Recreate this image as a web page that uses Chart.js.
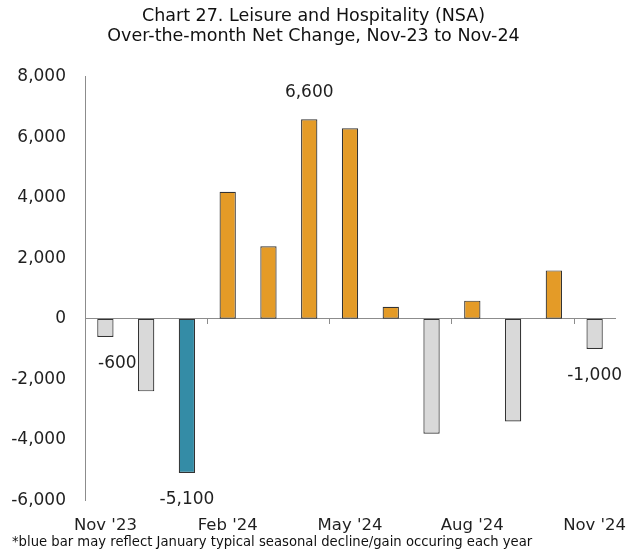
<!DOCTYPE html>
<html>
<head>
<meta charset="utf-8">
<title>Leisure and Hospitality (NSA) net change</title>
<script src="https://cdn.jsdelivr.net/npm/chart.js@4.4.1/dist/chart.umd.min.js"></script>
<style>
  html, body { margin: 0; padding: 0; background: #ffffff; }
  #wrap { width: 636px; height: 559px; }
</style>
</head>
<body>
<div id="wrap"><canvas id="chart" width="636" height="559"></canvas></div>
<script>
// Monthly categories and over-the-month net change (jobs)
const months = ["Nov '23", "Dec '23", "Jan '24", "Feb '24", "Mar '24", "Apr '24", "May '24",
                "Jun '24", "Jul '24", "Aug '24", "Sep '24", "Oct '24", "Nov '24"];
const netChange = [-600, -2400, -5100, 4200, 2400, 6600, 6300, 400, -3800, 600, -3400, 1600, -1000];

// Value axis range and step
const yMin = -6000;
const yMax = 8000;
const yStep = 2000;

// Months whose labels appear under the plot, and months with a value label
const axisLabelMonths = ["Nov '23", "Feb '24", "May '24", "Aug '24", "Nov '24"];
const labelledMonths = ["Nov '23", "Jan '24", "Apr '24", "Nov '24"];
const highlightMonth = "Jan '24";

const titleLines = ["Chart 27. Leisure and Hospitality (NSA)",
                    "Over-the-month Net Change, Nov-23 to Nov-24"];
const footnote = "*blue bar may reflect January typical seasonal decline/gain occuring each year";

const FONT = "'DejaVu Sans', 'Liberation Sans', sans-serif";
const TEXT = '#1f1f1f';
const AXIS = '#8c8c8c';

const barColors = months.map((m, i) =>
  m === highlightMonth ? '#348ca6' : (netChange[i] < 0 ? '#d9d9d9' : '#e49b27'));

const fmt = v => Number(v).toLocaleString('en-US');

// Writes the value next to the end of selected bars
const valueLabels = {
  id: 'valueLabels',
  afterDatasetsDraw(chart, args, opts) {
    const ctx = chart.ctx;
    const meta = chart.getDatasetMeta(0);
    ctx.save();
    ctx.font = opts.font;
    ctx.fillStyle = opts.color;
    ctx.textAlign = 'center';
    ctx.textBaseline = 'middle';
    labelledMonths.forEach(m => {
      const i = months.indexOf(m);
      const bar = meta.data[i];
      const v = netChange[i];
      const dy = v < 0 ? opts.gap : -opts.gap;
      const dx = (opts.nudge && opts.nudge[m]) || 0;
      ctx.fillText(fmt(v), bar.x + dx, bar.y + dy);
    });
    ctx.restore();
  }
};

const markedBoundaries = [3, 6, 9, 12];

// Let the axes keep their fixed sizes without extra label overflow padding
const noOverflow = s => {
  s.paddingLeft = 0; s.paddingRight = 0; s.paddingTop = 0; s.paddingBottom = 0;
};

new Chart(document.getElementById('chart'), {
  type: 'bar',
  data: {
    labels: months,
    datasets: [{
      data: netChange,
      backgroundColor: barColors,
      borderColor: '#333333',
      borderWidth: 1.2,
      borderSkipped: false,
      categoryPercentage: 1,
      barPercentage: 0.4,
      xAxisID: 'x',
      yAxisID: 'y'
    }]
  },
  options: {
    responsive: false,
    devicePixelRatio: 1,
    animation: false,
    layout: { padding: { top: 0, left: 12, right: 21, bottom: 0 } },
    scales: {
      y: {
        position: 'left',
        min: yMin,
        max: yMax,
        ticks: {
          stepSize: yStep,
          padding: 19,
          color: TEXT,
          font: { family: FONT, size: 17 },
          callback: v => fmt(v)
        },
        grid: { display: false, drawTicks: false },
        border: { display: true, color: AXIS, width: 1 },
        afterFit: s => { s.width = 73; noOverflow(s); }
      },
      x: {
        type: 'category',
        position: { y: 0 },
        offset: true,
        ticks: { display: false },
        grid: {
          offset: true,
          drawOnChartArea: false,
          drawTicks: true,
          tickLength: 5,
          color: ctx => markedBoundaries.includes(ctx.index) ? AXIS : 'rgba(0,0,0,0)'
        },
        border: { display: true, color: AXIS, width: 1 },
        afterFit: noOverflow
      },
      x2: {
        type: 'category',
        position: 'bottom',
        offset: true,
        grid: { display: false, drawTicks: false },
        border: { display: false },
        ticks: {
          autoSkip: false,
          maxRotation: 0,
          minRotation: 0,
          padding: 16,
          color: TEXT,
          font: { family: FONT, size: 16.5 },
          callback: (v, i) => axisLabelMonths.includes(months[i]) ? months[i] : ''
        },
        afterFit: s => { s.height = 34; noOverflow(s); }
      }
    },
    plugins: {
      legend: { display: false },
      tooltip: { enabled: false },
      title: {
        display: true,
        text: titleLines,
        color: '#111111',
        font: { family: FONT, size: 17.5, weight: 'normal', lineHeight: 1.17 },
        padding: { top: 6, bottom: 30 }
      },
      subtitle: {
        display: true,
        position: 'bottom',
        align: 'start',
        text: footnote,
        color: '#111111',
        font: { family: FONT, size: 13.2, lineHeight: 1.2 },
        padding: { top: 0, bottom: 9 }
      },
      valueLabels: {
        font: "17px " + FONT,
        color: TEXT,
        gap: 27,
        nudge: { "Nov '23": 12 }
      }
    }
  },
  plugins: [valueLabels]
});
</script>
</body>
</html>
